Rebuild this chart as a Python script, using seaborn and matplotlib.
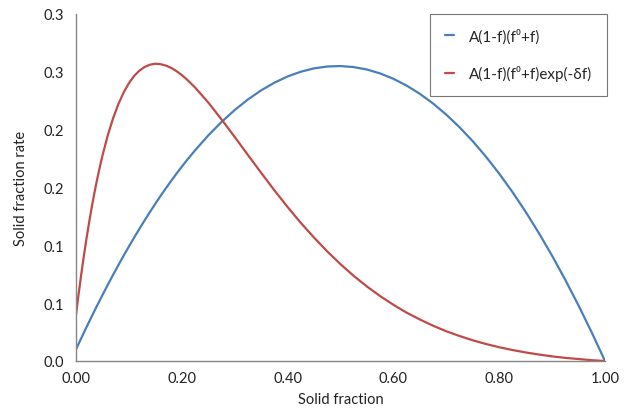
import matplotlib
matplotlib.use("Agg")
import matplotlib.pyplot as plt
import pandas as pd
import seaborn as sns

# Solid fraction samples (denser where the damped curve bends sharply)
solid_fraction = [
    0.00, 0.005, 0.01, 0.015, 0.02, 0.025, 0.03, 0.035, 0.04, 0.045, 0.05, 0.06, 0.07,
    0.08, 0.09, 0.10, 0.11, 0.12, 0.13, 0.14, 0.15, 0.16, 0.17, 0.18, 0.19, 0.20, 0.21,
    0.225, 0.25, 0.275, 0.30, 0.325, 0.35, 0.375, 0.40, 0.425, 0.45, 0.475, 0.50,
    0.525, 0.55, 0.575, 0.60, 0.625, 0.65, 0.675, 0.70, 0.725, 0.75, 0.775, 0.80,
    0.825, 0.85, 0.875, 0.90, 0.925, 0.95, 0.975, 1.00,
]

# Rate without the exponential damping term
rate_plain = [
    0.0100, 0.0149, 0.0198, 0.0246, 0.0294, 0.0341, 0.0388, 0.0434, 0.0480, 0.0525,
    0.0570, 0.0658, 0.0744, 0.0828, 0.0910, 0.0990, 0.1068, 0.1144, 0.1218, 0.1290,
    0.1360, 0.1428, 0.1494, 0.1558, 0.1620, 0.1680, 0.1738,
    0.1821, 0.1950, 0.2066, 0.2170, 0.2261, 0.2340, 0.2406, 0.2460, 0.2501, 0.2530,
    0.2546, 0.2550, 0.2541, 0.2520, 0.2486, 0.2440, 0.2381, 0.2310, 0.2226, 0.2130,
    0.2021, 0.1900, 0.1766, 0.1620, 0.1461, 0.1290, 0.1106, 0.0910, 0.0701, 0.0480,
    0.0246, 0.0000,
]

# Rate with the exponential damping term
rate_damped = [
    0.0400, 0.0581, 0.0753, 0.0913, 0.1064, 0.1204, 0.1336, 0.1458, 0.1572, 0.1677,
    0.1776, 0.1950, 0.2097, 0.2220, 0.2321, 0.2402, 0.2465, 0.2511, 0.2543, 0.2562,
    0.2570, 0.2566, 0.2554, 0.2534, 0.2506, 0.2472, 0.2432,
    0.2365, 0.2235, 0.2089, 0.1937, 0.1781, 0.1627, 0.1476, 0.1331, 0.1194, 0.1067,
    0.0947, 0.0837, 0.0736, 0.0644, 0.0561, 0.0486, 0.0418, 0.0359, 0.0305, 0.0257,
    0.0216, 0.0179, 0.0147, 0.0119, 0.0095, 0.0074, 0.0056, 0.0040, 0.0027, 0.0017,
    0.0007, 0.0000,
]

series_names = ["A(1-f)(f\u2070+f)", "A(1-f)(f\u2070+f)exp(-\u03b4f)"]
series_colors = ["#4A7EBB", "#BE4B48"]

x_ticks = [0.0, 0.2, 0.4, 0.6, 0.8, 1.0]
x_tick_labels = ["0.00", "0.20", "0.40", "0.60", "0.80", "1.00"]
y_ticks = [0.0, 0.05, 0.10, 0.15, 0.20, 0.25, 0.30]
y_tick_labels = ["0.0", "0.1", "0.1", "0.2", "0.2", "0.3", "0.3"]

df = pd.concat([
    pd.DataFrame({"f": solid_fraction, "rate": rate_plain, "series": series_names[0]}),
    pd.DataFrame({"f": solid_fraction, "rate": rate_damped, "series": series_names[1]}),
])

sns.set_theme(style="white")
plt.rcParams["font.family"] = ["Lato", "DejaVu Sans"]

fig = plt.figure(figsize=(6.3, 4.14), dpi=100)
ax = fig.add_axes([76 / 630, 1 - 362 / 414, (605 - 76) / 630, (362 - 15) / 414])

sns.lineplot(
    data=df, x="f", y="rate", hue="series", hue_order=series_names,
    palette=series_colors, estimator=None, sort=False, linewidth=1.6, ax=ax,
)

ax.set_xlim(0, 1)
ax.set_ylim(0, 0.3)
ax.set_xticks(x_ticks)
ax.set_xticklabels(x_tick_labels)
ax.set_yticks(y_ticks)
ax.set_yticklabels(y_tick_labels)

grey = "#868686"
for side in ["top", "right"]:
    ax.spines[side].set_visible(False)
for side in ["left", "bottom"]:
    ax.spines[side].set_color(grey)
    ax.spines[side].set_linewidth(1.0)

ax.tick_params(axis="both", direction="in", length=4, width=0.8, color=grey,
               labelsize=10.5, labelcolor="#222222", pad=7)
ax.tick_params(axis="y", pad=9)

ax.set_xlabel("Solid fraction", fontsize=10.5, color="#222222", labelpad=5)
ax.set_ylabel("Solid fraction rate", fontsize=10.5, color="#222222", labelpad=11)

leg = ax.legend(
    loc="upper right", bbox_to_anchor=(607 / 630, 1 - 15 / 414),
    bbox_transform=fig.transFigure, frameon=True, fancybox=False,
    fontsize=11, handlelength=0.6, handletextpad=1.0, labelspacing=1.4,
    borderpad=0.95, borderaxespad=0, title=None,
)
leg.get_frame().set_edgecolor("#555555")
leg.get_frame().set_linewidth(0.8)
for line in leg.get_lines():
    line.set_linewidth(1.6)

fig.savefig("out.png", dpi=100)
